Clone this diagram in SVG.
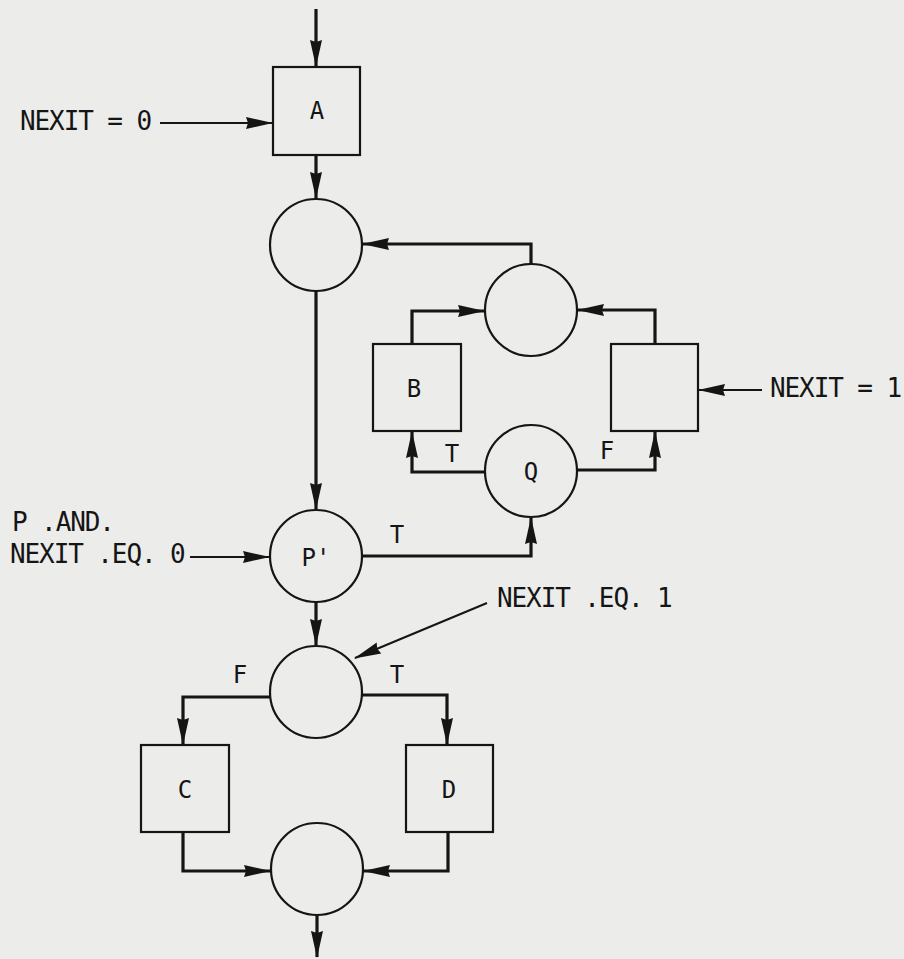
<svg xmlns="http://www.w3.org/2000/svg" width="904" height="959" viewBox="0 0 904 959">
<defs>
<style>
.bg{fill:#ececea}
.box{fill:none;stroke:#151515;stroke-width:2.2}
.circ{fill:none;stroke:#151515;stroke-width:2.2}
.flow{fill:none;stroke:#151515;stroke-width:3.2;marker-end:url(#ah)}
.thin{fill:none;stroke:#151515;stroke-width:2;marker-end:url(#ah)}
text{font-family:"DejaVu Sans Mono","Liberation Mono",monospace;fill:#151515}
.lbl{font-size:24px;text-anchor:middle}
.ext{font-size:26px;letter-spacing:-1.1px}
</style>
<marker id="ah" viewBox="-30 -7 32 14" refX="0" refY="0" markerWidth="32" markerHeight="14" markerUnits="userSpaceOnUse" orient="auto">
<path d="M1,0 L-26,-6 L-24,0 L-26,6 Z" fill="#151515"/>
</marker>
</defs>
<rect class="bg" x="0" y="0" width="904" height="959"/>

<g id="connectors">
<path class="flow" d="M316,9 V66"/>
<path class="thin" d="M160,123 H272"/>
<path class="flow" d="M316,155 V198"/>
<path class="flow" d="M316,291 V509"/>
<path class="flow" d="M531,264 V244 H363"/>
<path class="flow" d="M412,344 V311 H484"/>
<path class="flow" d="M655,344 V310 H578"/>
<path class="thin" d="M762,390 H699"/>
<path class="flow" d="M485,472 H412 V432"/>
<path class="flow" d="M577,470 H655 V432"/>
<path class="flow" d="M362,556 H531 V518"/>
<path class="thin" d="M190,557 H269"/>
<path class="flow" d="M316,602 V645"/>
<path class="thin" d="M487,603 L355,658"/>
<path class="flow" d="M270,697 H183 V744"/>
<path class="flow" d="M362,695 H447 V744"/>
<path class="flow" d="M183,832 V871 H270"/>
<path class="flow" d="M448,832 V871 H364"/>
<path class="flow" d="M317,915 V957"/>
</g>

<g id="nodeA"><rect class="box" x="273" y="67" width="87" height="88"/><text class="lbl" x="317" y="119">A</text></g>
<g id="circle1"><circle class="circ" cx="316" cy="245" r="46"/></g>
<g id="circle2"><circle class="circ" cx="531" cy="310" r="46"/></g>
<g id="nodeB"><rect class="box" x="373" y="344" width="88" height="87"/><text class="lbl" x="414" y="397">B</text></g>
<g id="nodeR"><rect class="box" x="611" y="344" width="87" height="87"/></g>
<g id="nodeQ"><circle class="circ" cx="531" cy="471" r="46"/><text class="lbl" x="531" y="480">Q</text></g>
<g id="nodeP"><circle class="circ" cx="316" cy="556" r="46"/><text class="lbl" x="316" y="566">P'</text></g>
<g id="circle4"><circle class="circ" cx="316" cy="692" r="46"/></g>
<g id="nodeC"><rect class="box" x="141" y="745" width="88" height="87"/><text class="lbl" x="185" y="798">C</text></g>
<g id="nodeD"><rect class="box" x="406" y="745" width="87" height="87"/><text class="lbl" x="449" y="798">D</text></g>
<g id="circle5"><circle class="circ" cx="317" cy="869" r="46"/></g>

<g id="labels">
<text class="ext" x="20" y="130">NEXIT = 0</text>
<text class="ext" x="770" y="397">NEXIT = 1</text>
<text class="lbl" x="452" y="462">T</text>
<text class="lbl" x="607" y="459">F</text>
<text class="ext" x="12" y="531">P .AND.</text>
<text class="ext" x="10" y="563">NEXIT .EQ. 0</text>
<text class="lbl" x="397" y="543">T</text>
<text class="ext" x="497" y="607">NEXIT .EQ. 1</text>
<text class="lbl" x="240" y="683">F</text>
<text class="lbl" x="397" y="683">T</text>
</g>
</svg>
